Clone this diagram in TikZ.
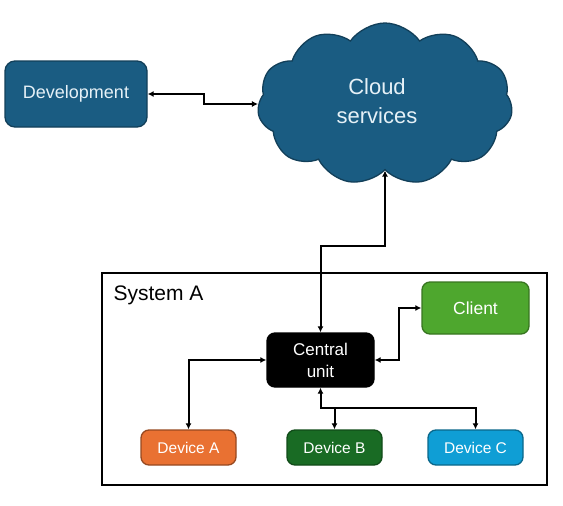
\documentclass[tikz,border=0pt]{standalone}
\usepackage{fontspec}
\setmainfont{Liberation Sans}
\usepackage{tikz}
\usetikzlibrary{positioning,arrows.meta,shapes.symbols,calc}

\definecolor{cloudblue}{HTML}{1A5C82}
\definecolor{cloudedge}{HTML}{123F59}
\definecolor{paletext}{HTML}{E6F1F7}
\definecolor{clientgreen}{HTML}{4EA72E}
\definecolor{orangeA}{HTML}{E97132}
\definecolor{greenB}{HTML}{196B24}
\definecolor{blueC}{HTML}{0F9ED5}

\begin{document}
\begin{tikzpicture}[
  x=1pt, y=-1pt,
  box/.style={rectangle, rounded corners=8pt, line width=1.3pt, align=center,
              text=white, inner sep=0pt},
  device/.style={box, minimum width=95pt, minimum height=35pt,
                 font=\fontsize{15.5}{18}\selectfont},
  arr/.style={{Latex[length=6pt,width=6pt]}-{Latex[length=6pt,width=6pt]}, line width=2pt},
]
  \useasboundingbox (0,0) rectangle (563,506);

  % Top row
  \node[box, fill=cloudblue, draw=cloudedge, text=paletext, rounded corners=10pt,
        minimum width=142pt, minimum height=66pt,
        font=\fontsize{18}{21}\selectfont] (dev) at (76,94) {Development};
  \node[cloud, cloud puffs=11, cloud puff arc=110, aspect=1.6,
        fill=cloudblue, draw=cloudedge, line width=1.3pt,
        minimum width=255pt, minimum height=162pt,
        label={[text=paletext, align=center, xshift=-8pt, yshift=3pt,
                font=\fontsize{22}{29}\selectfont]center:Cloud\\services}] (cloud) at (385,104) {};

  % System A
  \draw[line width=2pt] (102,273) rectangle (547,485);
  \node[anchor=base west, font=\fontsize{21}{25}\selectfont] (sysA) at (110,300) {System A};

  \node[box, fill=black, draw=black, minimum width=107pt, minimum height=54pt,
        font=\fontsize{17}{22}\selectfont] (central) at (320.5,360) {Central\\unit};
  \node[box, fill=clientgreen, draw=clientgreen!70!black, minimum width=107pt,
        minimum height=52pt, font=\fontsize{17.5}{20}\selectfont] (client) at (475.5,308) {Client};

  % Devices
  \node[device, fill=orangeA, draw=orangeA!65!black] (devA) at (188.5,447.5) {Device A};
  \node[device, fill=greenB, draw=greenB!70!black] (devB) at (334.5,447.5) {Device B};
  \node[device, fill=blueC, draw=blueC!65!black] (devC) at (475.5,447.5) {Device C};

  % Arrows
  \draw[arr] (dev.east) -- ++(56,0) |- (cloud.west);
  \draw[arr] (cloud.south) -- ++(0,75) -| (central.north);
  \draw[arr] (central.east) -- ++(24,0) |- (client.west);
  \draw[arr] (central.west) -| (devA.north);
  \draw[arr] (central.south) -- ++(0,20) coordinate (split) -| (devC.north);
  \draw[-{Latex[length=6pt,width=6pt]}, line width=2pt] (split -| devB.north) -- (devB.north);
\end{tikzpicture}
\end{document}
